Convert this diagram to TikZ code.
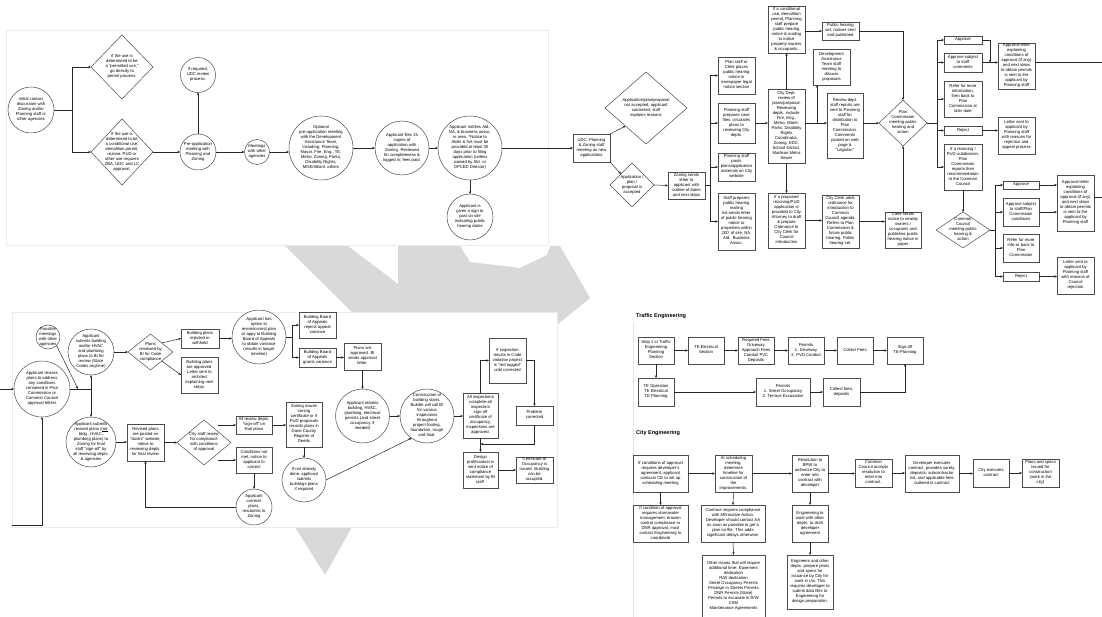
\documentclass[tikz,border=0pt]{standalone}
\usepackage{fontspec}
\setmainfont{Liberation Sans}
\usetikzlibrary{arrows.meta,shapes.geometric,calc}
\newcommand\ftx{\fontsize{4.2}{5}\selectfont}
\newcommand\tx[1]{\makebox[0pt]{\raisebox{-1.2pt}[0pt][0pt]{\begin{tabular}{@{}c@{}}#1\end{tabular}}}}
\tikzset{
 ln/.style={draw=black!85, line width=0.5pt},
 arr/.style={ln, -{Stealth[length=2.8pt,width=2.4pt]}},
 box/.style={draw=black!70, line width=0.6pt, fill=white, rectangle, inner sep=0pt, outer sep=0pt, font=\ftx},
 circ/.style={draw=black!70, line width=0.5pt, fill=white, circle, inner sep=0pt, outer sep=0pt, font=\ftx},
 dia/.style={draw=black!70, line width=0.5pt, fill=white, diamond, inner sep=0pt, outer sep=0pt, font=\ftx},
 ttl/.style={font=\fontsize{5.5}{6}\selectfont\bfseries, inner sep=0pt},
 wm/.style={fill=black!15},
 panel/.style={fill=white, draw=black!8, line width=0.4pt},
}
\newcommand\rbox[6]{\pgfmathsetmacro\qcx{(#2+#4)/2}\pgfmathsetmacro\qcy{(#3+#5)/2}\pgfmathsetmacro\qw{#4-#2}\pgfmathsetmacro\qh{#5-#3}\node[box,minimum width=\qw pt,minimum height=\qh pt] (#1) at (\qcx,\qcy) {\tx{#6}};}
\newcommand\rdia[6]{\pgfmathsetmacro\qcx{(#2+#4)/2}\pgfmathsetmacro\qcy{(#3+#5)/2}\pgfmathsetmacro\qw{#4-#2}\pgfmathsetmacro\qh{#5-#3}\node[dia,minimum width=\qw pt,minimum height=\qh pt] (#1) at (\qcx,\qcy) {\tx{#6}};}
\newcommand\rcirc[5]{\pgfmathsetmacro\qd{2*#4}\node[circ,minimum size=\qd pt] (#1) at (#2,#3) {\tx{#5}};}
\begin{document}
\begin{tikzpicture}[x=1pt,y=-1pt]
\useasboundingbox (0,0) rectangle (1102,617);
\fill[white] (0,0) rectangle (1102,617);
% watermark
\fill[wm] (285,246) -- (348,246) -- (398,284) -- (398,312) -- (352,312) -- cycle;
\fill[wm] (398,246) -- (460,246) -- (470,262) -- (520,268) -- (547,255) -- (550,246) -- (560,246) -- (590,298) -- (557,325) -- (557,312) -- (398,312) -- cycle;
\fill[wm] (295,527) -- (352,527) -- (325,575) -- cycle;
% panels
\filldraw[panel] (6,30) rectangle (548,245);
\filldraw[panel] (12,312) rectangle (557,527);
\draw[draw=black!10, line width=0.4pt] (633,322) -- (633,617);

% ---------- top-left ----------
\rcirc{init}{31}{110}{23}{Initial contact\\discussion with\\Zoning and/or\\Planning staff or\\other agencies}
\rdia{dpermit}{91}{35}{153}{99}{If the use is\\determined to be\\a “permitted use,”\\go directly to\\permit process.}
\rdia{dcond}{91}{119}{153}{185}{If the use is\\determined to be\\a conditional use,\\demolition permit,\\rezone, PUD or\\other use requires\\ZBA, UDC and LC\\approval.}
\rcirc{preapp}{198}{152}{18}{Pre-application\\meeting with\\Planning and\\Zoning}
\rcirc{udc}{198}{75}{17.5}{If required,\\UDC review\\process.}
\rcirc{meet}{257}{152}{12.5}{Meetings\\with other\\agencies}
\rcirc{dat}{321}{148}{32}{Optional\\pre-application meeting\\with the Development\\Assistance Team,\\including: Planning,\\Mayor, Fire, Eng., TE,\\Metro, Zoning, Parks,\\Disability Rights,\\MGE/Alliant, others}
\rcirc{files}{402}{148}{27}{Applicant files 15\\copies of\\application with\\Zoning. Reviewed\\for completeness \&\\logged in; fees paid.}
\rcirc{notif}{470}{148}{32}{Applicant notifies Ald.,\\NA, \& business assoc.\\in area. *Notice to\\Alder \& NA must be\\provided at least 30\\days prior to filing\\application (unless\\waived by Ald. or\\DPCED Director)}
\rcirc{sign}{470}{217}{23}{Applicant is\\given a sign to\\post on site\\indicating public\\hearing dates}

\coordinate (b1) at (72,110);
\draw[ln] (init.east) -- (b1);
\draw[arr] (b1) |- (dpermit.west);
\draw[arr] (b1) |- (dcond.west);
\draw[arr] (dcond.east) -- (preapp.west);
\draw[arr] (preapp.north) -- (udc.south);
\draw[arr] (preapp.east) -- (meet.west);
\draw[arr] (meet.east) -- (meet.east -| dat.west);
\draw[arr] (dat.east) -- (files.west);
\draw[arr] (files.east) -- (notif.west);
\draw[arr] (notif.south) -- (sign.north);

% ---------- top-right ----------
\rbox{udcbox}{573}{134}{610}{162}{UDC, Planning\\\& Zoning staff\\meeting on new\\applications}
\rdia{dnot}{605}{72}{687}{144}{Application/plan/proposal\\not accepted, applicant\\contacted, staff\\explains reasons}
\rdia{dacc}{610}{163}{654}{207}{Application /\\plan /\\proposal is\\accepted}
\rbox{zsend}{668}{172}{705}{199}{Zoning sends\\letter to\\applicant with\\outline of dates\\and next steps}
\rbox{pa}{718}{57}{755}{94}{Plan staff or\\Clerk places\\public hearing\\notice in\\newspaper legal\\notice section}
\rbox{pb}{718}{103}{755}{143}{Planning staff\\prepares case\\files, circulates\\plans to\\reviewing City\\depts.}
\rbox{pc}{718}{153}{755}{181}{Planning staff\\posts\\plans/application\\materials on City\\website}
\rbox{pd}{718}{193}{755}{250}{Staff prepares\\public hearing\\mailing\\list-sends letter\\of public hearing\\notice to\\properties within\\200' of site, NA,\\Ald., Business\\Assoc.}
\rbox{cdept}{768}{89}{805}{163}{City Dept.\\review of\\plans/proposal.\\Reviewing\\depts. include:\\Fire, Eng.,\\Metro, Water,\\Parks, Disability\\Rights\\Coordinator,\\Zoning, EDC,\\School District,\\Madison Metro\\Sewer}
\rbox{pcond}{768}{6}{805}{53}{If a conditional\\use, demolition\\permit, Planning\\staff prepare\\public hearing\\notice \& mailing\\to notice\\property owners\\\& occupants.}
\rbox{phset}{822}{22}{859}{40}{Public hearing\\set, notices sent\\and published}
\rbox{dat2}{813}{49}{850}{85}{Development\\Assistance\\Team staff\\meeting to\\discuss\\proposals}
\rbox{review}{827}{93}{863}{158}{Review dept.\\staff reports are\\sent to Planning\\staff for\\distribution to\\Plan\\Commission.\\Comments\\posted on web\\page \&\\“Legistar.”}
\rdia{pcomm}{879}{100}{927}{146}{Plan\\Commission\\meeting-public\\hearing and\\action}
\rbox{rez}{768}{193}{805}{248}{If a proposed\\rezoning/PUD\\application is\\provided to City\\Attorney to draft\\\& prepare\\Ordinance to\\City Clerk for\\Council\\introduction}
\rbox{clerk}{822}{195}{859}{248}{City Clerk adds\\ordinance for\\introduction to\\Common\\Council agenda.\\Refers to Plan\\Commission \&\\future public\\hearing. Public\\hearing set.}
\rbox{clsend}{885}{212}{921}{248}{Clerk sends\\notice to nearby\\owners /\\occupants and\\publishes public\\hearing notice in\\paper}
\rbox{pap}{944}{36}{982}{44}{Approve}
\rbox{pas}{944}{53}{982}{72}{Approve subject\\to staff\\comments}
\rbox{pref}{944}{81}{982}{117}{Refer for more\\information,\\then back to\\Plan\\Commission at\\later date}
\rbox{prej}{944}{126}{982}{135}{Reject}
\rbox{prez}{944}{144}{982}{190}{If a rezoning /\\PUD-subdivision,\\Plan\\Commission\\reports their\\recommendation\\to the Common\\Council}
\rbox{plet}{998}{43}{1035}{89}{Approval letter\\explaining\\conditions of\\approval (if any)\\and next steps\\to obtain permits\\is sent to the\\applicant by\\Planning staff}
\rbox{rlet}{998}{117}{1035}{154}{Letter sent to\\applicant by\\Planning staff\\with reasons for\\rejection and\\appeal process}
\rdia{ccomm}{936}{212}{990}{248}{Common\\Council\\meeting-public\\hearing \&\\action}
\rbox{cap}{1003}{181}{1039}{189}{Approve}
\rbox{cas}{1003}{198}{1039}{226}{Approve subject\\to staff/Plan\\Commission\\conditions}
\rbox{cref}{1003}{234}{1039}{262}{Refer for more\\info-or back to\\Plan\\Commission}
\rbox{crej}{1003}{272}{1039}{281}{Reject}
\rbox{clet}{1057}{175}{1094}{231}{Approval letter\\explaining\\conditions of\\approval (if any)\\and next steps\\to obtain permits\\is sent to the\\applicant by\\Planning staff}
\rbox{crlet}{1057}{257}{1094}{294}{Letter sent to\\applicant by\\Planning staff\\with reasons of\\Council\\rejection}

\draw[arr] (notif.east) -- (udcbox.west);
\draw[arr] (udcbox.north east) -- (dnot.south west);
\draw[arr] (udcbox.south east) -- (dacc.north west);
\draw[arr] (dacc.east) -- (zsend.west);
\coordinate (b2) at (710,185.5);
\draw[ln] (zsend.east) -- (b2);
\draw[arr] (b2) |- (pa.west);
\draw[arr] (b2) |- (pb.west);
\draw[arr] (b2) |- (pc.west);
\draw[arr] (b2) |- (pd.west);
\draw[arr] (pb.east) -- (pb.east -| cdept.west);
\draw[arr] (cdept.north) -- (pcond.south);
\draw[arr] (pcond.east |- phset.west) -- (phset.west);
\draw[arr] (phset.east) -| (pcomm.north);
\coordinate (r1) at (817,123);
\draw[ln] (cdept.east |- r1) -- (r1);
\draw[arr] (r1) -- (r1 -| review.west);
\draw[arr] (r1) -- (r1 |- dat2.south);
\draw[arr] (review.east |- r1) -- (r1 -| pcomm.west);
\draw[arr] (cdept.south) -- (rez.north);
\draw[arr] (rez.east) -- (rez.east -| clerk.west);
\draw[arr] (clerk.east) -- (clerk.east -| clsend.west);
\draw[arr] (clsend.north) -- (pcomm.south);
\coordinate (b3) at (937,123);
\draw[ln] (pcomm.east) -- (b3);
\draw[arr] (b3) |- (pap.west);
\draw[arr] (b3) |- (pas.west);
\draw[arr] (b3) |- (pref.west);
\draw[arr] (b3) |- (prej.west);
\draw[arr] (b3) |- (prez.west);
\coordinate (j1) at (990,62.5);
\draw[arr] (pap.east) -| (j1);
\draw[arr] (pas.east) -- (pas.east -| plet.west);
\coordinate (e1) at (1102,62.5);
\draw[ln] (e1 -| plet.east) -- (e1);
\draw[arr] (prej.east) -- (prej.east -| rlet.west);
\draw[arr] (prez.south) -- (ccomm.north);
\coordinate (b4) at (995,230);
\draw[ln] (ccomm.east) -- (b4);
\draw[arr] (b4) |- (cap.west);
\draw[arr] (b4) |- (cas.west);
\draw[arr] (b4) |- (cref.west);
\draw[arr] (b4) |- (crej.west);
\draw[arr] (cap.east) -- (cap.east -| clet.west);
\draw[arr] (cas.east) -- (cas.east -| clet.west);
\coordinate (e2) at (1102,197);
\draw[ln] (e2 -| clet.east) -- (e2);
\draw[arr] (crej.east) -- (crej.east -| crlet.west);

% ---------- bottom-left ----------
\rcirc{rev}{42}{389}{28}{Applicant revises\\plans to address\\any conditions\\contained in Plan\\Commission or\\Common Council\\approval letters}
\rcirc{poss}{48}{337}{12}{Possible\\meetings\\with other\\agencies}
\rcirc{bi}{91}{352}{23}{Applicant\\submits building\\and/or HVAC\\and plumbing\\plans to BI for\\review (State\\Codes anytime)}
\rcirc{subrev}{91}{442}{25}{Applicant submits\\revised plans (\underline{not}\\bldg., HVAC,\\plumbing plans) to\\Zoning for final\\staff “sign-off” by\\all reviewing depts.\\\& agencies}
\rdia{biv}{128}{334}{173}{370}{Plans\\reviewed by\\BI for Code\\compliance}
\rbox{brej}{181}{329}{219}{348}{Building plans\\rejected or\\withheld}
\rbox{bapp}{181}{357}{218}{393}{Building plans\\are approved.\\Letter sent to\\architect\\explaining next\\steps.}
\rcirc{opt}{259}{337}{27}{Applicant has\\option to\\revise/correct plan\\or appy to Building\\Board of Appeals\\to obtain variance\\(results in longer\\timeline)}
\rbox{bbrej}{299}{312}{336}{338}{Building Board\\of Appeals\\rejects appeal\\variance}
\rbox{bbgr}{299}{348}{336}{367}{Building Board\\of Appeals\\grants variance}
\rbox{papp}{344}{343}{381}{370}{Plans are\\approved. BI\\sends approval\\letter.}
\rcirc{obt}{362.5}{416}{27}{Applicant obtains\\building, HVAC,\\plumbing, electrical\\permits (and street\\occupancy, if\\needed)}
\rcirc{constr}{427}{416}{27}{Construction of\\building starts.\\Builder will call BI\\for various\\inspections\\throughout\\project-footing,\\foundation, rough\\and final.}
\rbox{allin}{463}{393}{498}{438}{All inspections\\complete-all\\inspectors\\sign-off\\certificate of\\occupancy,\\inspections are\\approved.}
\rbox{redtag}{489}{338}{526}{383}{If inspection\\results in Code\\violation project\\is “red tagged”\\until corrected}
\rbox{probc}{516}{406}{553}{425}{Problem\\corrected}
\rbox{design}{463}{452}{498}{488}{Design\\professional is\\sent notice of\\compliance\\statement by BI\\staff.}
\rbox{cert}{516}{457}{553}{483}{Certificate of\\Occupancy is\\issued. Building\\can be\\occupied.}
\rbox{posted}{127}{424}{164}{461}{Revised plans\\are posted on\\“ducks” website,\\notice to\\reviewing depts.\\for final review}
\rdia{dcity}{177}{420}{231}{465}{City staff review\\for compliance\\with conditions\\of approval}
\rbox{signoff}{236}{416}{272}{434}{All review depts.\\“sign-off” on\\final plans}
\rbox{notmet}{236}{447}{272}{473}{Conditions not\\met, notice to\\applicant to\\correct}
\rcirc{corr}{254}{507}{18}{Applicant\\corrects\\plans,\\resubmits to\\Zoning}
\rbox{zcert}{286}{402}{322}{447}{Zoning issues\\zoning\\certificate or if\\PUD proposals\\records plans in\\Dane County\\Register of\\Deeds}
\rcirc{ifnot}{304}{480}{22}{If not already\\done, applicant\\submits\\buildings plans\\if required}

\coordinate (s1) at (0,389);
\draw[arr] (s1) -- (s1 -| rev.west);
\coordinate (j2) at (91,389);
\coordinate (j3) at (78,389);
\draw[ln] (rev.east) -- (j2);
\draw[arr] (poss.south east) -- (j3);
\draw[arr] (j2) -- (bi.south);
\draw[arr] (j2) -- (subrev.north);
\draw[arr] (bi.east) -- (biv.west);
\draw[arr] (biv.north east) -- (brej.west);
\draw[arr] (biv.south east) -- (bapp.west);
\draw[arr] (brej.east) -- (brej.east -| opt.west);
\coordinate (j4) at (292,337);
\draw[ln] (opt.east) -- (j4);
\draw[arr] (j4) |- (bbrej.west);
\draw[arr] (j4) |- (bbgr.west);
\draw[arr] (bbgr.east) -- (bbgr.east -| papp.west);
\draw[arr] (papp.south) -- (obt.north);
\draw[arr] (obt.east) -- (constr.west);
\draw[arr] (constr.east) -- (constr.east -| allin.west);
\draw[arr] (allin.north) |- (redtag.west);
\draw[arr] (redtag.east) -| (probc.north);
\draw[arr] (allin.south) -- (design.north);
\coordinate (j5) at (480.5,444);
\draw[arr] (probc.south) |- (j5);
\draw[arr] (design.east) -- (design.east -| cert.west);
\draw[arr] (subrev.east) -- (subrev.east -| posted.west);
\draw[arr] (posted.east) -- (dcity.west);
\draw[arr] (dcity.north east |- signoff.west) -- (signoff.west);
\draw[arr] (dcity.south east |- notmet.west) -- (notmet.west);
\draw[arr] (notmet.south) -- (corr.north);
\draw[arr] (corr.west) -| (posted.south);
\draw[arr, line width=0.9pt] (signoff.east) -- (signoff.east -| zcert.west);
\draw[arr] (zcert.south) -- (ifnot.north);
\draw[arr] (ifnot.east) -- (constr.235);
\coordinate (s2) at (12,525);
\draw[arr] (s2) -| (rev.south);

% ---------- Traffic Engineering ----------
\node[ttl, anchor=west] (ttraffic) at (636,316) {Traffic Engineering};
\rbox{ts1}{638}{337}{674}{364}{Step 1 in Traffic\\Engineering\\Planning\\Section}
\rbox{tel}{688}{337}{724}{364}{TE Electrical\\Section}
\rbox{tfee}{738}{337}{774}{364}{Required Fees\\Driveway\\Approach Fees\\Conduit PVC\\Deposits}
\rbox{tper}{788}{337}{824}{364}{Permits\\1. Driveway\\2. PVD Conduit}
\rbox{tcol}{837}{337}{873}{364}{Collect Fees}
\rbox{tsign}{887}{337}{923}{364}{Sign-off\\TE-Planning}
\rbox{top}{638}{378}{674}{406}{TE Operation\\TE Electrical\\TE Planning}
\rbox{tper2}{756}{378}{810}{406}{Permits\\1. Street Occupancy\\2. Terrace Excavation}
\rbox{tcol2}{823}{378}{860}{406}{Collect fees,\\deposits}
\draw[arr] (ts1.east) -- (tel.west);
\draw[arr] (tel.east) -- (tfee.west);
\draw[arr] (tfee.east) -- (tper.west);
\draw[arr] (tper.east) -- (tcol.west);
\draw[arr] (tcol.east) -- (tsign.west);
\draw[arr] (ts1.south) -- (top.north);
\draw[arr] (top.east) -- (tper2.west);
\draw[arr] (tper2.east) -- (tcol2.west);
\draw[arr] (tcol2.east) -| (tsign.south);

% ---------- City Engineering ----------
\node[ttl, anchor=west] (tcity) at (636,433) {City Engineering};
\rbox{c1}{633}{455}{688}{492}{If conditions of approval\\requires developer's\\agreement, applicant\\contacts CE to set up\\scheduling meeting}
\rbox{c2}{715}{455}{752}{492}{At scheduling\\meeting,\\determine\\timeline for\\construction of\\the\\improvements.}
\rbox{c3}{792}{455}{828}{492}{Resolution to\\BPW to\\authorize City to\\enter into\\contract with\\developer}
\rbox{c4}{855}{459}{892}{487}{Common\\Council accepts\\resolution to\\enter into\\contract.}
\rbox{c5}{905}{455}{959}{492}{Developer executes\\contract, provides surety,\\deposits, subcontractor\\list, and applicable fees\\outlined in contract}
\rbox{c6}{973}{459}{1009}{487}{City executes\\contract}
\rbox{c7}{1022}{459}{1059}{487}{Plans and specs\\issued for\\construction\\(work in the\\city)}
\rbox{c1b}{633}{505}{688}{542}{If condition of approval\\requires stormwater\\management, erosion\\control compliance or\\DNR approval, must\\contact Engineering to\\coordinate}
\rbox{c2b}{701}{505}{765}{542}{Contract requires compliance\\with Affirmative Action.\\Developer should contact AA\\as soon as possible to get a\\plan on file. This adds\\significant delays otherwise.}
\rbox{c2c}{702}{555}{765}{617}{Other issues that will require\\additional time: Easement\\dedication\\R/W dedication\\Street Occupancy Permits\\Privilege in Streets Permits\\DNR Permits (State)\\Permits to excavate in R/W\\CSM\\Maintenance Agreements}
\rbox{c3b}{792}{505}{828}{542}{Engineering to\\work with other\\depts. to draft\\developer\\agreement}
\rbox{c3c}{787}{555}{833}{609}{Engineers and other\\depts. prepare plans\\and specs for\\issuance by City for\\work in r/w. This\\requires developer to\\submit data files to\\Engineering for\\design preparation.}
\draw[arr] (c1.east) -- (c1.east -| c2.west);
\draw[arr] (c2.east) -- (c2.east -| c3.west);
\draw[arr] (c3.east) -- (c3.east -| c4.west);
\draw[arr] (c4.east) -- (c4.east -| c5.west);
\draw[arr] (c5.east) -- (c5.east -| c6.west);
\draw[arr] (c6.east) -- (c7.west);
\draw[arr] (c1.south) -- (c1b.north);
\draw[arr] (c2.south) -- (c2b.north);
\draw[arr] (c2b.south) -- (c2c.north);
\draw[arr] (c3.south) -- (c3b.north);
\draw[arr] (c3b.south) -- (c3c.north);
\end{tikzpicture}
\end{document}
